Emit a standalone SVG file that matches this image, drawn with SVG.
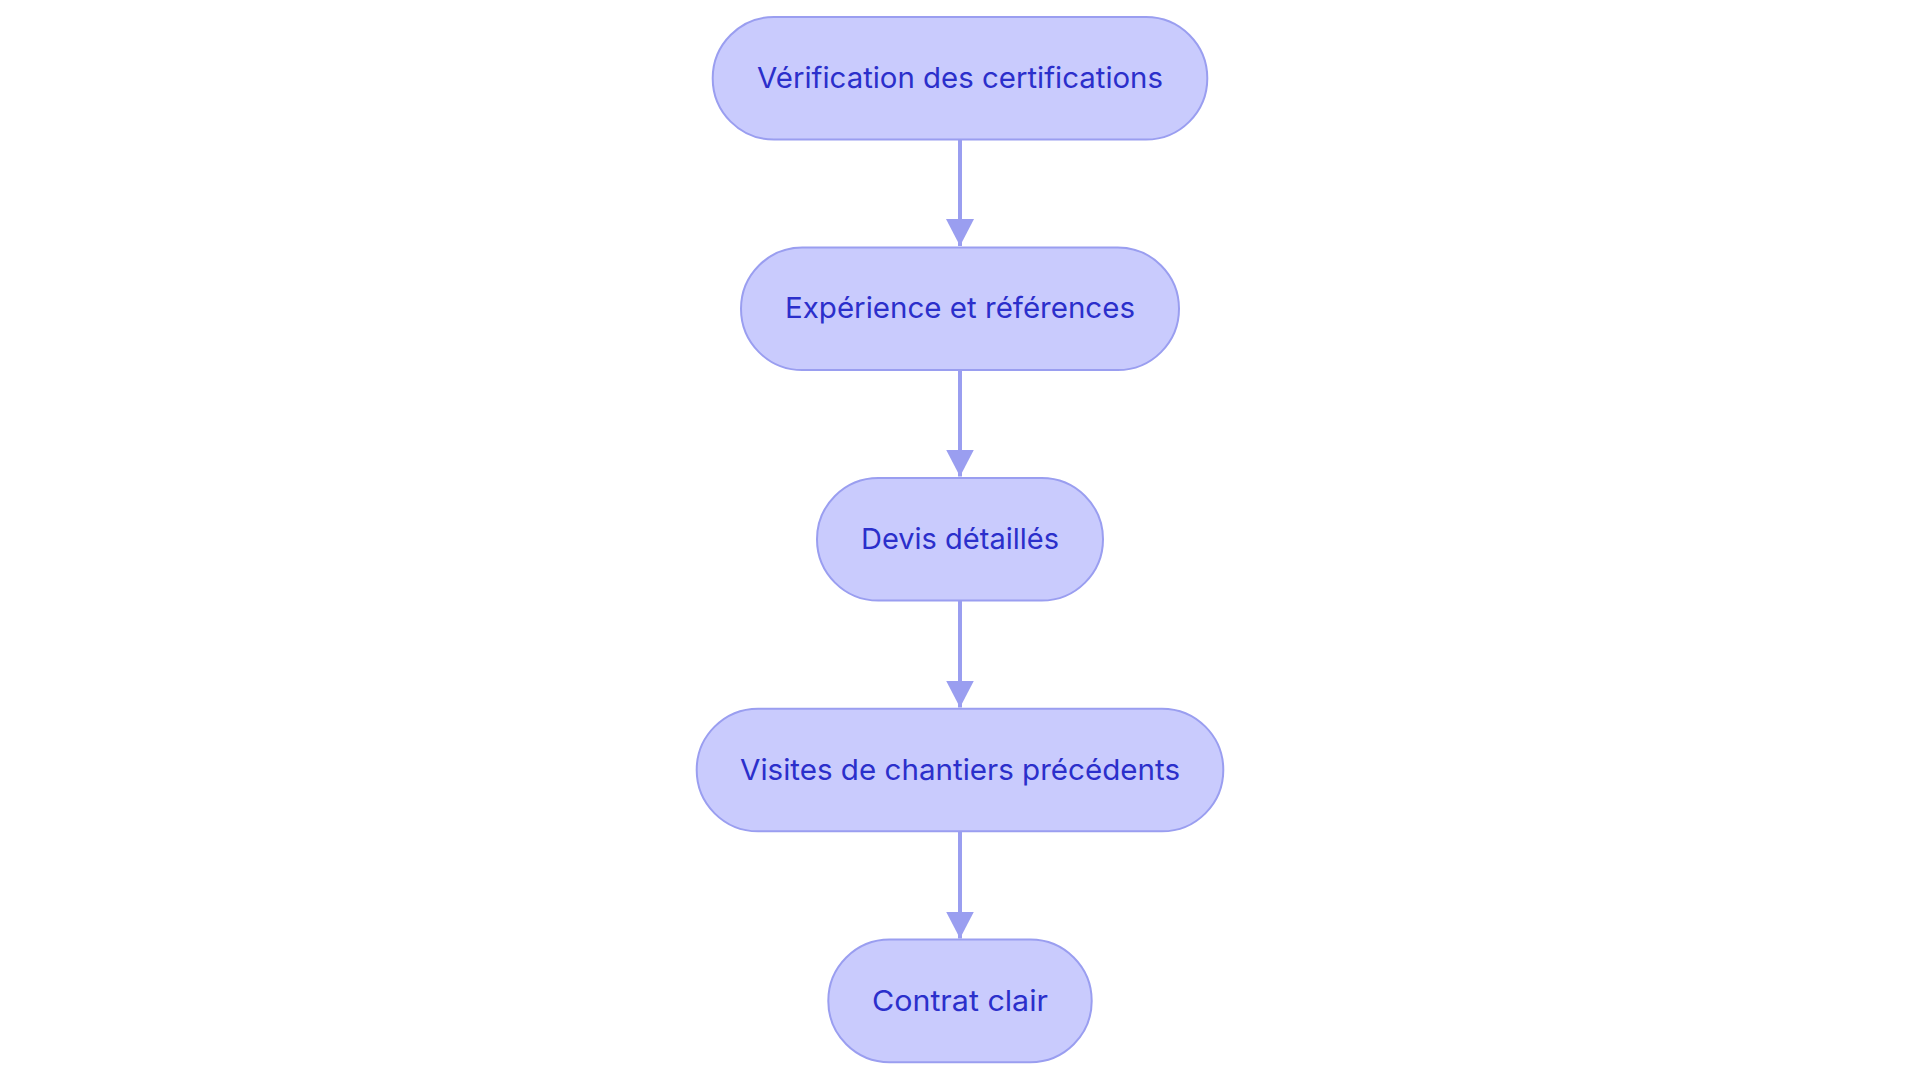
<svg xmlns="http://www.w3.org/2000/svg" width="1920" height="1083" viewBox="0 0 1920 1083">
<style>
.node rect{fill:#C9CBFD;stroke:#9A9EF0;stroke-width:2}
.node text{font-family:Inter,"Open Sans","Liberation Sans",sans-serif;font-size:29px;fill:#2B2FCB;text-anchor:middle}
.edge{stroke:#9A9EF0;stroke-width:4;fill:none}
</style>
<defs>
<marker id="arrow" markerUnits="userSpaceOnUse" markerWidth="28" markerHeight="28" refX="26" refY="13.5" orient="auto" viewBox="0 0 27 27">
<path d="M0,0 L26,13.5 L0,27 Z" fill="#9A9EF0"/>
</marker>
</defs>
<rect width="1920" height="1083" fill="#ffffff"/>
<g id="connectors">
<line class="edge" x1="960" y1="139.5" x2="960" y2="246" marker-end="url(#arrow)"/>
<line class="edge" x1="960" y1="370" x2="960" y2="476.5" marker-end="url(#arrow)"/>
<line class="edge" x1="960" y1="600.5" x2="960" y2="707.5" marker-end="url(#arrow)"/>
<line class="edge" x1="960" y1="831.5" x2="960" y2="938.5" marker-end="url(#arrow)"/>
</g>
<g id="node1" class="node">
<rect x="712.7" y="17" width="494.6" height="122.6" rx="61.3" ry="61.3"/>
<text x="960" y="87.5" textLength="406" lengthAdjust="spacingAndGlyphs">Vérification des certifications</text>
</g>
<g id="node2" class="node">
<rect x="741" y="247.5" width="438" height="122.6" rx="61.3" ry="61.3"/>
<text x="960" y="318" textLength="350" lengthAdjust="spacingAndGlyphs">Expérience et références</text>
</g>
<g id="node3" class="node">
<rect x="817" y="478" width="286" height="122.6" rx="61.3" ry="61.3"/>
<text x="960" y="548.5" textLength="198" lengthAdjust="spacingAndGlyphs">Devis détaillés</text>
</g>
<g id="node4" class="node">
<rect x="696.7" y="708.7" width="526.6" height="122.6" rx="61.3" ry="61.3"/>
<text x="960" y="779.5" textLength="440" lengthAdjust="spacingAndGlyphs">Visites de chantiers précédents</text>
</g>
<g id="node5" class="node">
<rect x="828.3" y="939.6" width="263.4" height="122.6" rx="61.3" ry="61.3"/>
<text x="960" y="1010.5" textLength="176" lengthAdjust="spacingAndGlyphs">Contrat clair</text>
</g>
</svg>
